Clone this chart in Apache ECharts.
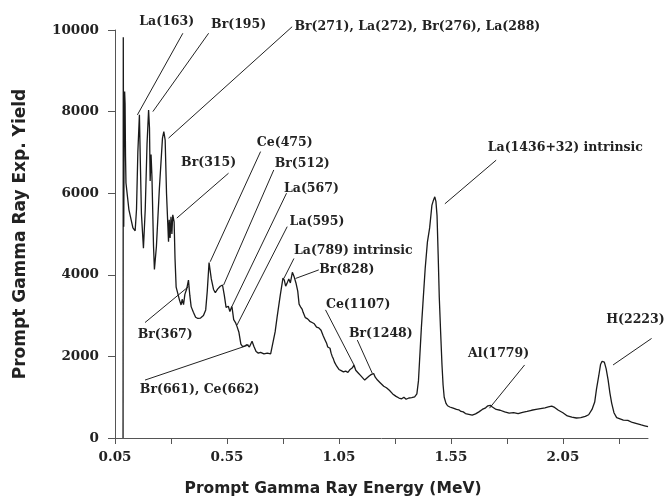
<!DOCTYPE html>
<html>
<head>
<meta charset="utf-8">
<script src="https://cdn.jsdelivr.net/npm/echarts@6/dist/echarts.min.js"></script>
<style>
html,body{margin:0;padding:0;background:#fff;}
#chart{width:666px;height:498px;}
</style>
</head>
<body>
<div id="chart"></div>
<script>
// Energy (MeV) of each sampled point
const energy = [
0.086,0.087,0.088,0.089,0.091,0.093,0.095,0.097,0.099,0.100,0.112,0.130,0.140,0.146,0.152,0.159,0.163,0.168,0.177,0.185,
0.193,0.200,0.204,0.207,0.211,0.215,0.222,0.226,0.235,0.248,0.262,0.268,0.274,0.280,0.289,0.292,0.296,0.300,0.304,0.308,
0.314,0.318,0.323,0.330,0.338,0.345,0.350,0.356,0.362,0.370,0.378,0.384,0.390,0.400,0.410,0.420,0.432,0.445,0.455,0.462,
0.470,0.475,0.480,0.490,0.498,0.508,0.520,0.530,0.538,0.546,0.556,0.563,0.572,0.580,0.588,0.595,0.603,0.612,0.620,0.630,
0.640,0.650,0.662,0.670,0.680,0.690,0.700,0.715,0.730,0.745,0.752,0.765,0.774,0.788,0.800,0.806,0.812,0.818,0.826,0.833,
0.842,0.850,0.858,0.866,0.872,0.880,0.886,0.890,0.895,0.900,0.905,0.910,0.915,0.920,0.926,0.930,0.935,0.940,0.945,0.950,
0.955,0.960,0.965,0.970,0.975,0.980,0.985,0.990,0.995,1.000,1.005,1.010,1.015,1.020,1.025,1.030,1.035,1.040,1.045,1.050,
1.060,1.070,1.080,1.090,1.100,1.110,1.117,1.125,1.135,1.145,1.155,1.165,1.175,1.185,1.195,1.205,1.212,1.222,1.235,1.250,
1.262,1.275,1.290,1.305,1.318,1.330,1.340,1.350,1.362,1.375,1.388,1.398,1.405,1.410,1.418,1.425,1.435,1.445,1.455,1.465,
1.472,1.478,1.483,1.488,1.493,1.498,1.504,1.510,1.515,1.520,1.528,1.535,1.545,1.552,1.560,1.568,1.575,1.585,1.595,1.605,
1.615,1.630,1.645,1.660,1.675,1.690,1.705,1.715,1.726,1.735,1.752,1.770,1.790,1.810,1.830,1.850,1.870,1.890,1.910,1.930,
1.950,1.970,1.985,2.000,2.013,2.030,2.050,2.070,2.090,2.110,2.130,2.150,2.165,2.180,2.192,2.200,2.210,2.218,2.225,2.235,
2.243,2.252,2.260,2.268,2.278,2.290,2.305,2.320,2.340,2.360,2.380,2.400,2.415,2.430
];
// Prompt gamma ray experimental yield at each energy
const yieldValues = [
0,9820,7000,5180,7500,8490,8200,6900,6250,6250,5600,5150,5080,5600,7000,7920,6800,5500,4650,5600,
7200,8040,7600,6300,6950,6400,4700,4130,4700,6100,7350,7510,7300,6000,4810,5350,4900,5420,5000,5470,
5300,4400,3700,3550,3380,3260,3400,3270,3520,3650,3870,3500,3220,3080,2960,2930,2940,3000,3140,3600,
4300,4320,3900,3640,3560,3650,3720,3750,3500,3200,3230,3100,3230,2900,2830,2730,2600,2300,2240,2260,
2290,2230,2370,2250,2120,2080,2100,2060,2080,2060,2100,2600,2970,3500,3920,3870,3720,3790,3900,3800,
4060,3950,3800,3600,3280,3200,3150,3080,3060,2950,2970,2920,2900,2860,2880,2830,2790,2800,2760,2720,
2730,2700,2680,2640,2600,2500,2480,2380,2320,2230,2240,2200,2080,2000,1940,1860,1830,1760,1720,1680,
1650,1620,1640,1610,1680,1720,1790,1660,1600,1540,1480,1420,1470,1520,1560,1580,1490,1420,1350,1270,
1230,1170,1080,1020,980,960,1000,950,980,990,1010,1080,1400,1900,2700,3300,4150,4800,5150,5700,
5830,5910,5800,5450,4500,3450,2600,1800,1300,1000,850,790,760,790,730,750,700,690,650,640,
600,580,560,590,640,700,740,790,800,760,700,680,640,610,620,600,630,650,680,700,
720,740,760,780,750,680,620,540,510,490,500,530,570,700,880,1200,1520,1800,1880,1860,
1700,1420,1100,850,620,500,470,440,430,380,350,320,300,280
];
// Axis ticks and labels
const xTickValues = [0.05,0.30,0.55,0.80,1.05,1.30,1.55,1.80,2.05,2.30];
const xLabelValues = [0.05,0.55,1.05,1.55,2.05];
// Peak annotations: text, text centre [E, yield], leader start, leader end
const annoText = ["La(163)","Br(195)","Br(271), La(272), Br(276), La(288)","Br(315)","Ce(475)","Br(512)","La(567)","La(595)",
  "La(789) intrinsic","Br(828)","Ce(1107)","Br(1248)","La(1436+32) intrinsic","Al(1779)","H(2223)","Br(367)","Br(661), Ce(662)"];
const annoTextPos = [[0.281,10200],[0.602,10120],[1.400,10080],[0.468,6750],[0.808,7240],[0.886,6720],[0.927,6100],[0.952,5310],
  [1.114,4580],[1.085,4120],[1.136,3260],[1.237,2560],[2.061,7120],[1.763,2060],[2.374,2890],[0.274,2540],[0.428,1190]];
const leaderFrom = [[0.353,9920],[0.468,9920],[0.841,10080],[0.557,6490],[0.700,7020],[0.759,6570],[0.816,6000],[0.819,5180],
  [0.849,4400],[0.960,4120],[0.990,3140],[1.132,2400],[1.752,6810],[1.879,1790],[2.446,2440],[0.184,2830],[0.184,1420]];
const leaderTo = [[0.150,7920],[0.219,8000],[0.289,7350],[0.326,5390],[0.475,4320],[0.535,3750],[0.573,3235],[0.595,2770],
  [0.804,3910],[0.856,3910],[1.117,1790],[1.199,1585],[1.523,5740],[1.722,730],[2.274,1790],[0.378,3710],[0.647,2280]];

const chart = echarts.init(document.getElementById('chart'), null, {renderer:'canvas'});
const seriesData = energy.map((e,i)=>[e, yieldValues[i]]);
const tickFont = {fontFamily:'DejaVu Serif', fontWeight:'bold', fontSize:13.5, color:'#222'};
chart.setOption({
  animation:false,
  backgroundColor:'#fff',
  grid:{left:115, right:18, top:30, bottom:60},
  xAxis:{
    type:'value', min:0.05, max:2.43,
    axisLine:{show:true, lineStyle:{color:'#555', width:1}},
    axisTick:{show:true, inside:false, length:6, lineStyle:{color:'#555'}, customValues:xTickValues},
    axisLabel:Object.assign({margin:12, customValues:xLabelValues, formatter:v=>v.toFixed(2)}, tickFont),
    splitLine:{show:false}
  },
  yAxis:{
    type:'value', min:0, max:10000, interval:2000,
    name:'Prompt Gamma Ray Exp. Yield', nameLocation:'middle', nameGap:86,
    nameTextStyle:{fontFamily:'DejaVu Sans', fontWeight:'bold', fontSize:17, color:'#222'},
    axisLine:{show:true, lineStyle:{color:'#555', width:1}},
    axisTick:{show:true, inside:false, length:7, lineStyle:{color:'#555'}},
    axisLabel:Object.assign({margin:16, formatter:v=>String(Math.round(v))}, tickFont),
    splitLine:{show:false}
  },
  series:[{
    type:'line', data:seriesData, symbol:'none', showSymbol:false,
    lineStyle:{color:'#1a1a1a', width:1.3}, clip:false
  }]
});

const g = [];
annoText.forEach((t,i)=>{
  const a = chart.convertToPixel({gridIndex:0}, leaderFrom[i]);
  const b = chart.convertToPixel({gridIndex:0}, leaderTo[i]);
  g.push({type:'line', shape:{x1:a[0],y1:a[1],x2:b[0],y2:b[1]}, style:{stroke:'#222', lineWidth:1}, silent:true});
  const p = chart.convertToPixel({gridIndex:0}, annoTextPos[i]);
  g.push({type:'text', x:p[0], y:p[1], silent:true,
    style:{text:t, fill:'#222', font:'bold 12.5px "DejaVu Serif"', align:'center', verticalAlign:'middle', textAlign:'center', textVerticalAlign:'middle'}});
});
g.push({type:'text', x:333, y:489, silent:true,
  style:{text:'Prompt Gamma Ray Energy (MeV)', fill:'#222', font:'bold 15.5px "DejaVu Sans"', align:'center', verticalAlign:'middle', textAlign:'center', textVerticalAlign:'middle'}});
chart.setOption({graphic:g});
</script>
</body>
</html>
